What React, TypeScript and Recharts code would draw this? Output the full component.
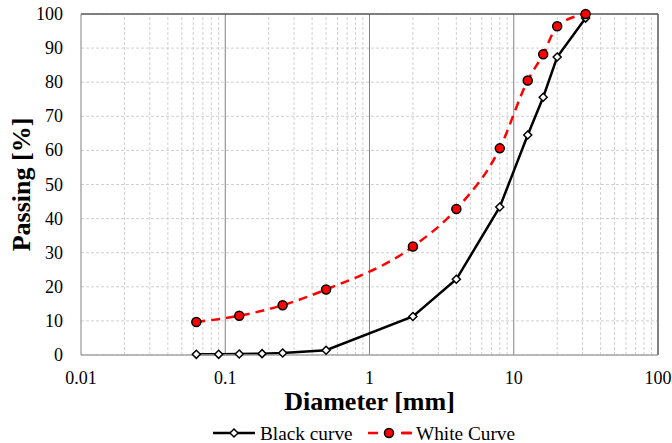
import { CartesianGrid, Label, Legend, Line, LineChart, ReferenceLine, XAxis, YAxis } from "recharts"

const serif = "'Liberation Serif', 'Times New Roman', serif"

// sieve sizes [mm] and passing [%]
const blackSizes = [0.063, 0.09, 0.125, 0.18, 0.25, 0.5, 2, 4, 8, 12.5, 16, 20, 31.5]
const blackPassing = [0.2, 0.2, 0.3, 0.4, 0.6, 1.4, 11.3, 22.2, 43.4, 64.5, 75.6, 87.4, 98.8]

const whiteSizes = [0.063, 0.125, 0.25, 0.5, 2, 4, 8, 12.5, 16, 20, 31.5]
const whitePassing = [9.7, 11.5, 14.6, 19.2, 31.8, 42.8, 60.6, 80.5, 88.2, 96.4, 100]

const xTicks = [0.01, 0.1, 1, 10, 100]
const yTicks = [0, 10, 20, 30, 40, 50, 60, 70, 80, 90, 100]
const majorLines = [0.1, 1, 10]
const minorSteps = [2, 3, 4, 5, 6, 7, 8, 9]
const decades = [0.01, 0.1, 1, 10]

const blackData = blackSizes.map((d, i) => ({ d, p: blackPassing[i] }))
const whiteData = whiteSizes.map((d, i) => ({ d, p: whitePassing[i] }))
const minorLines = decades.flatMap((dec) => minorSteps.map((s) => +(dec * s).toPrecision(3)))

const titleStyle = { fontSize: 26, fontWeight: "bold", fontFamily: serif, fill: "#000" }

function XTick({ x, y, payload }: any) {
  return (
    <text x={x} y={y} dy={15} textAnchor="middle" fontSize={18} fill="#000" style={{ fontFamily: serif }}>
      {String(payload.value)}
    </text>
  )
}

function YTick({ x, y, payload }: any) {
  return (
    <text x={x} y={y} dy={6} textAnchor="end" fontSize={18} fill="#000" style={{ fontFamily: serif }}>
      {String(payload.value)}
    </text>
  )
}

function Diamond({ cx, cy }: any) {
  if (cx == null || cy == null) return null
  const r = 4
  return (
    <polygon
      points={`${cx},${cy - r} ${cx + r},${cy} ${cx},${cy + r} ${cx - r},${cy}`}
      fill="#fff"
      stroke="#000"
      strokeWidth={1.5}
    />
  )
}

function RedDot({ cx, cy }: any) {
  if (cx == null || cy == null) return null
  return <circle cx={cx} cy={cy} r={4.5} fill="#ff0000" stroke="#000" strokeWidth={1.5} />
}

function LegendBox() {
  return (
    <svg width={672} height={22} style={{ display: "block", fontFamily: serif }}>
      <line x1={213} y1={12} x2={255} y2={12} stroke="#000" strokeWidth={2.5} />
      <Diamond cx={234} cy={12} />
      <text x={260} y={18.5} fontSize={19.3} fill="#000" style={{ fontFamily: serif }}>
        Black curve
      </text>
      <line x1={368} y1={12} x2={411} y2={12} stroke="#ff0000" strokeWidth={2.5} strokeDasharray="10 23" />
      <line x1={402} y1={12} x2={412} y2={12} stroke="#ff0000" strokeWidth={2.5} />
      <RedDot cx={389} cy={12} />
      <text x={416} y={18.5} fontSize={19.3} fill="#000" style={{ fontFamily: serif }}>
        White Curve
      </text>
    </svg>
  )
}

export default function App() {
  return (
    <div style={{ position: "absolute", left: 0, top: 0, fontFamily: serif }}>
      <LineChart width={672} height={443} margin={{ top: 14, right: 14, bottom: 0, left: 0 }}>
        <CartesianGrid vertical={false} stroke="#d0d0d0" strokeDasharray="3 2" />
        {minorLines.map((v) => (
          <ReferenceLine key={v} x={v} stroke="#d0d0d0" strokeDasharray="3 2" />
        ))}
        {majorLines.map((v) => (
          <ReferenceLine key={v} x={v} stroke="#808080" />
        ))}
        <ReferenceLine y={100} stroke="#595959" strokeWidth={1.5} />
        <ReferenceLine x={100} stroke="#595959" strokeWidth={1.5} />
        <XAxis
          type="number"
          dataKey="d"
          scale="log"
          domain={[0.01, 100]}
          ticks={xTicks}
          allowDataOverflow
          height={66}
          tickLine={false}
          tickSize={0}
          tickMargin={14}
          stroke="#a6a6a6"
          strokeWidth={1.5}
          tick={<XTick />}
        >
          <Label value="Diameter [mm]" position="insideBottom" offset={11} style={titleStyle} />
        </XAxis>
        <YAxis
          type="number"
          domain={[0, 100]}
          ticks={yTicks}
          width={81}
          tickLine={false}
          tickSize={0}
          tickMargin={18}
          stroke="#808080"
          tick={<YTick />}
        >
          <Label
            value="Passing [%]"
            position="insideLeft"
            angle={-90}
            offset={21}
            textAnchor="middle"
            style={{ ...titleStyle, textAnchor: "middle" }}
          />
        </YAxis>
        <Legend
          verticalAlign="bottom"
          height={22}
          content={() => <LegendBox />}
          wrapperStyle={{ left: 0, width: 672, height: 22 }}
        />
        <Line
          data={blackData}
          dataKey="p"
          type="linear"
          stroke="#000"
          strokeWidth={2.5}
          dot={(props: any) => <Diamond key={`b${props.index}`} {...props} />}
          isAnimationActive={false}
        />
        <Line
          data={whiteData}
          dataKey="p"
          type="monotone"
          stroke="#ff0000"
          strokeWidth={2.5}
          strokeDasharray="9 6"
          dot={(props: any) => <RedDot key={`w${props.index}`} {...props} />}
          isAnimationActive={false}
        />
      </LineChart>
    </div>
  )
}
